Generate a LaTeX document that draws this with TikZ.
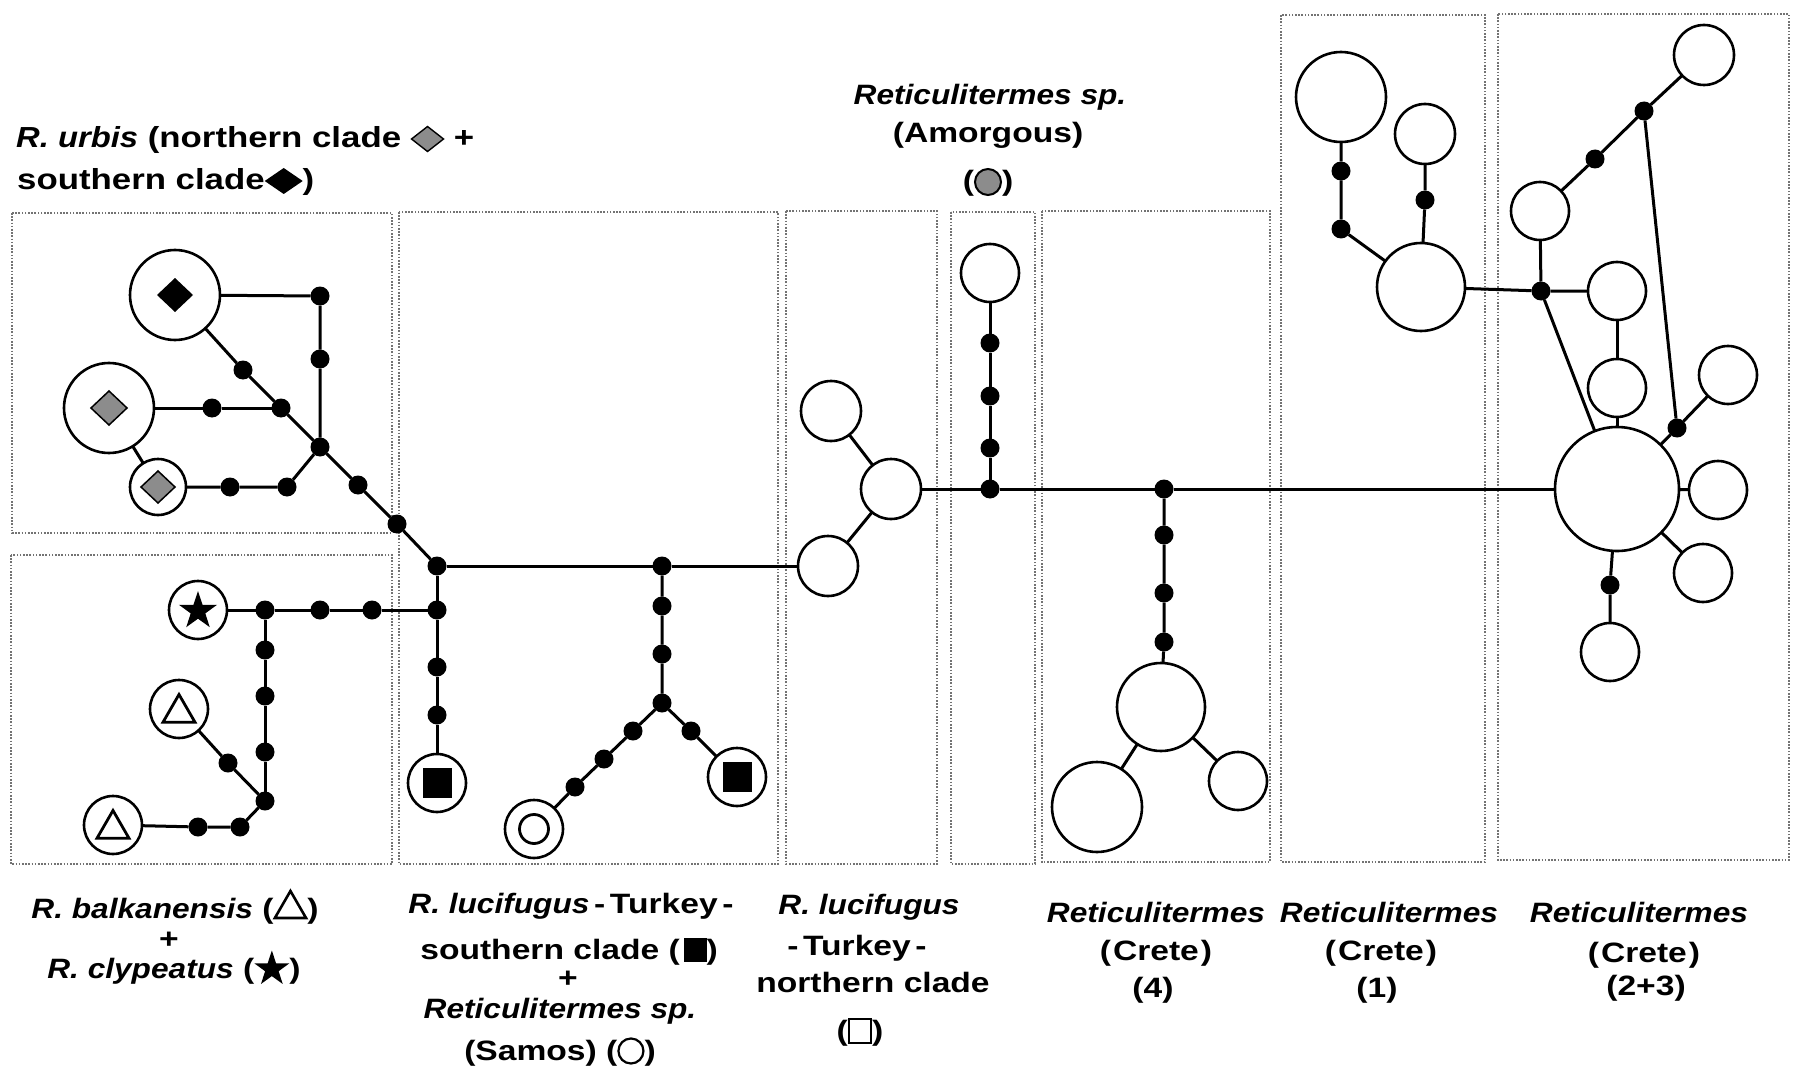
\documentclass[tikz,border=0pt]{standalone}
\usepackage{fontspec}
\setmainfont{Liberation Sans}[UprightFeatures={FakeStretch=1.12},ItalicFeatures={FakeStretch=1.12},BoldFeatures={FakeStretch=1.2},BoldItalicFeatures={FakeStretch=1.13}]
\usetikzlibrary{shapes.geometric,calc}
\definecolor{dgray}{gray}{0.55}
\definecolor{boxgray}{gray}{0.45}
\newcommand{\sgd}{\tikz[baseline=-9pt]\node[anchor=center,diamond,draw=black,fill=dgray,line width=1.4pt,minimum width=32pt,minimum height=25pt,inner sep=0pt,outer sep=0pt]{};}
\newcommand{\sbd}{\tikz[baseline=-9pt]\node[anchor=center,diamond,fill=black,minimum width=38pt,minimum height=26pt,inner sep=0pt,outer sep=0pt]{};}
\newcommand{\sgc}{\tikz[baseline=-9pt]\node[anchor=center,circle,draw=black,fill=dgray,line width=2pt,minimum size=26pt,inner sep=0pt]{};}
\newcommand{\stri}{\tikz[baseline=-9pt]\node[anchor=center,regular polygon,regular polygon sides=3,draw=black,line width=2.6pt,minimum size=36pt,inner sep=0pt]{};}
\newcommand{\sstar}{\tikz[baseline=-9pt]\node[anchor=center,star,star points=5,star point ratio=2.6,fill=black,minimum size=37pt,inner sep=0pt]{};}
\newcommand{\ssq}{\tikz[baseline=-9pt]\node[anchor=center,fill=black,minimum width=22pt,minimum height=24pt,inner sep=0pt]{};}
\newcommand{\sci}{\tikz[baseline=-9pt]\node[anchor=center,circle,draw=black,line width=2.2pt,minimum size=25pt,inner sep=0pt]{};}
\newcommand{\ssqo}{\tikz[baseline=-9pt]\node[anchor=center,draw=black,line width=2.2pt,minimum width=22pt,minimum height=24pt,inner sep=0pt]{};}
\tikzset{
 hap/.style={circle,draw=black,line width=2.6pt,fill=white,inner sep=0pt,outer sep=0pt,minimum size=#1},
 mv/.style={circle,fill=black,inner sep=0pt,outer sep=0pt,minimum size=19pt},
 edge/.style={line width=3pt},
 box/.style={draw=boxgray,line width=1.3pt,dash pattern=on 1.6pt off 1.6pt},
 lab/.style={font=\fontsize{28}{30}\selectfont\bfseries,inner sep=0pt,anchor=base},
 toplab/.style={font=\fontsize{29}{32}\selectfont\bfseries,inner sep=0pt,anchor=base west},
 bigsym/.style={inner sep=0pt,outer sep=0pt},
}
\begin{document}
\begin{tikzpicture}[x=1pt,y=-1pt]
\useasboundingbox (0,0) rectangle (1797,1078);
\fill[white] (0,0) rectangle (1797,1078);

% dotted boxes
\draw[box] (12,213) rectangle (392,533);
\draw[box] (11,555) rectangle (392,864);
\draw[box] (399,212) rectangle (778,864);
\draw[box] (786,211) rectangle (937,864);
\draw[box] (951,212) rectangle (1035,864);
\draw[box] (1042,211) rectangle (1270,862);
\draw[box] (1281,15) rectangle (1485,862);
\draw[box] (1498,14) rectangle (1789,860);

% R. urbis
\node[hap=90pt] (sd) at (175,295) {};
\node[hap=90pt] (nd1) at (109,408) {};
\node[hap=56pt] (nd2) at (158,487) {};
\node[mv] (u1) at (320,296) {};
\node[mv] (u2) at (320,359) {};
\node[mv] (u3) at (243,370) {};
\node[mv] (u4) at (212,408) {};
\node[mv] (u5) at (281,408) {};
\node[mv] (u6) at (320,447) {};
\node[mv] (u7) at (230,487) {};
\node[mv] (u8) at (287,487) {};
\node[mv] (u9) at (358,485) {};
\node[mv] (u10) at (397,524) {};
\node[mv] (J) at (437,566) {};

% balkanensis / clypeatus
\node[hap=58pt] (st) at (198,610) {};
\node[hap=58pt] (tr1) at (179,709) {};
\node[hap=58pt] (tr2) at (113,825) {};
\node[mv] (b1) at (265,610) {};
\node[mv] (b2) at (320,610) {};
\node[mv] (b3) at (372,610) {};
\node[mv] (b4) at (437,610) {};
\node[mv] (b5) at (265,650) {};
\node[mv] (b6) at (265,696) {};
\node[mv] (b7) at (265,752) {};
\node[mv] (b8) at (265,801) {};
\node[mv] (b9) at (228,763) {};
\node[mv] (b10) at (198,827) {};
\node[mv] (b11) at (240,827) {};
\node[mv] (s1) at (437,667) {};
\node[mv] (s2) at (437,715) {};
\node[hap=58pt] (sq1) at (437,783) {};

% Turkey south + Samos
\node[mv] (g0) at (662,566) {};
\node[mv] (g1) at (662,606) {};
\node[mv] (g2) at (662,654) {};
\node[mv] (g3) at (662,703) {};
\node[mv] (g4) at (633,731) {};
\node[mv] (g5) at (604,759) {};
\node[mv] (g6) at (575,787) {};
\node[hap=58pt] (sam) at (534,829) {};
\node[mv] (g7) at (691,731) {};
\node[hap=58pt] (sq2) at (737,777) {};

% Turkey north
\node[hap=60pt] (t1) at (831,411) {};
\node[hap=60pt] (t2) at (891,489) {};
\node[hap=60pt] (t3) at (828,566) {};

% Amorgous
\node[hap=58pt] (am) at (990,273) {};
\node[mv] (a1) at (990,343) {};
\node[mv] (a2) at (990,396) {};
\node[mv] (a3) at (990,448) {};
\node[mv] (a0) at (990,489) {};

% Crete 4
\node[mv] (k0) at (1164,489) {};
\node[mv] (k1) at (1164,535) {};
\node[mv] (k2) at (1164,593) {};
\node[mv] (k3) at (1164,642) {};
\node[hap=88pt] (k4) at (1161,707) {};
\node[hap=90pt] (k5) at (1097,807) {};
\node[hap=58pt] (k6) at (1238,781) {};

% Crete 1
\node[hap=90pt] (p1) at (1341,97) {};
\node[hap=60pt] (p2) at (1425,134) {};
\node[mv] (m1) at (1341,171) {};
\node[mv] (m2) at (1341,229) {};
\node[mv] (m3) at (1425,200) {};
\node[hap=88pt] (p3) at (1421,287) {};

% Crete 2+3
\node[mv] (n0) at (1541,291) {};
\node[hap=58pt] (q1) at (1540,211) {};
\node[mv] (n1) at (1595,159) {};
\node[mv] (n2) at (1644,111) {};
\node[hap=60pt] (q2) at (1704,55) {};
\node[hap=58pt] (q3) at (1617,291) {};
\node[hap=58pt] (q4) at (1617,388) {};
\node[hap=124pt] (Q) at (1617,489) {};
\node[mv] (n3) at (1677,428) {};
\node[hap=58pt] (q5) at (1728,375) {};
\node[hap=58pt] (q6) at (1718,490) {};
\node[hap=58pt] (q7) at (1703,573) {};
\node[mv] (n4) at (1610,585) {};
\node[hap=58pt] (q8) at (1610,652) {};

% edges
\draw[edge] (sd) -- (u1) -- (u2) -- (u6);
\draw[edge] (sd) -- (u3) -- (u5) -- (u6) -- (u9) -- (u10) -- (J);
\draw[edge] (nd1) -- (u4) -- (u5);
\draw[edge] (nd1) -- (nd2);
\draw[edge] (nd2) -- (u7) -- (u8) -- (u6);
\draw[edge] (J) -- (b4) -- (s1) -- (s2) -- (sq1);
\draw[edge] (st) -- (b1) -- (b2) -- (b3) -- (b4);
\draw[edge] (b1) -- (b5) -- (b6) -- (b7) -- (b8);
\draw[edge] (tr1) -- (b9) -- (b8);
\draw[edge] (tr2) -- (b10) -- (b11) -- (b8);
\draw[edge] (J) -- (g0) -- (t3);
\draw[edge] (g0) -- (g1) -- (g2) -- (g3) -- (g4) -- (g5) -- (g6) -- (sam);
\draw[edge] (g3) -- (g7) -- (sq2);
\draw[edge] (t1) -- (t2) -- (t3);
\draw[edge] (t2) -- (a0) -- (k0) -- (Q);
\draw[edge] (am) -- (a1) -- (a2) -- (a3) -- (a0);
\draw[edge] (k0) -- (k1) -- (k2) -- (k3) -- (k4);
\draw[edge] (k4) -- (k5);
\draw[edge] (k4) -- (k6);
\draw[edge] (p1) -- (m1) -- (m2) -- (p3);
\draw[edge] (p2) -- (m3) -- (p3);
\draw[edge] (p3) -- (n0) -- (q3);
\draw[edge] (n0) -- (q1) -- (n1) -- (n2) -- (q2);
\draw[edge] (n2) -- (n3) -- (q5);
\draw[edge] (n3) -- (Q);
\draw[edge] (n0) -- (Q);
\draw[edge] (q3) -- (q4) -- (Q);
\draw[edge] (Q) -- (q6);
\draw[edge] (Q) -- (q7);
\draw[edge] (Q) -- (n4) -- (q8);

% symbols inside haplotype circles
\node[bigsym,diamond,fill=black,minimum width=36pt,minimum height=34pt] (sdm) at (sd) {};
\node[bigsym,diamond,draw=black,line width=1.5pt,fill=dgray,minimum width=36pt,minimum height=34pt] (nd1m) at (nd1) {};
\node[bigsym,diamond,draw=black,line width=1.5pt,fill=dgray,minimum width=34pt,minimum height=32pt] (nd2m) at (nd2) {};
\node[bigsym,star,star points=5,star point ratio=2.6,fill=black,minimum size=40pt] (stm) at ($(st)+(0,1)$) {};
\node[bigsym,regular polygon,regular polygon sides=3,draw=black,line width=2.8pt,minimum size=37pt] (tr1m) at ($(tr1)+(0,4)$) {};
\node[bigsym,regular polygon,regular polygon sides=3,draw=black,line width=2.8pt,minimum size=37pt] (tr2m) at ($(tr2)+(0,4)$) {};
\node[bigsym,fill=black,minimum width=29pt,minimum height=30pt] (sq1m) at (sq1) {};
\node[bigsym,fill=black,minimum width=29pt,minimum height=30pt] (sq2m) at (sq2) {};
\node[bigsym,circle,draw=black,line width=2.8pt,minimum size=29pt] (samm) at (sam) {};

% top labels
\node[toplab] (lu1) at (16,148) {\textit{R. urbis} (northern clade \sgd\ +};
\node[toplab] (lu2) at (17,190) {southern clade\sbd)};
\node[lab] (la1) at (990,105) {\textit{Reticulitermes sp.}};
\node[lab] (la2) at (988,143) {(Amorgous)};
\node[lab] (la3) at (988,191) {(\sgc)};

% bottom labels
\node[lab] (lA1) at (175,918) {\textit{R. balkanensis} (\stri)};
\node[lab] (lA2) at (169,948) {+};
\node[lab] (lA3) at (174,978) {\textit{R. clypeatus} (\sstar)};

\node[lab] (lB1) at (571,913) {\textit{R. lucifugus}\,-\,Turkey\,-};
\node[lab] (lB2) at (569,959) {southern clade (\,\ssq)};
\node[lab] (lB3) at (568,987) {+};
\node[lab] (lB4) at (560,1018) {\textit{Reticulitermes sp.}};
\node[lab] (lB5) at (560,1060) {(Samos) (\sci)};

\node[lab] (lC1) at (869,914) {\textit{R. lucifugus}};
\node[lab] (lC2) at (857,955) {-\,Turkey\,-};
\node[lab] (lC3) at (873,992) {northern clade};
\node[lab] (lC4) at (860,1040) {(\ssqo)};

\node[lab] (lD1) at (1156,922) {\textit{Reticulitermes}};
\node[lab] (lD2) at (1156,960) {(\kern2pt Crete\kern2pt)};
\node[lab] (lD3) at (1153,997) {(4)};

\node[lab] (lE1) at (1389,922) {\textit{Reticulitermes}};
\node[lab] (lE2) at (1381,960) {(\kern2pt Crete\kern2pt)};
\node[lab] (lE3) at (1377,997) {(1)};

\node[lab] (lF1) at (1639,922) {\textit{Reticulitermes}};
\node[lab] (lF2) at (1644,962) {(\kern2pt Crete\kern2pt)};
\node[lab] (lF3) at (1646,995) {(2+3)};
\end{tikzpicture}
\end{document}
